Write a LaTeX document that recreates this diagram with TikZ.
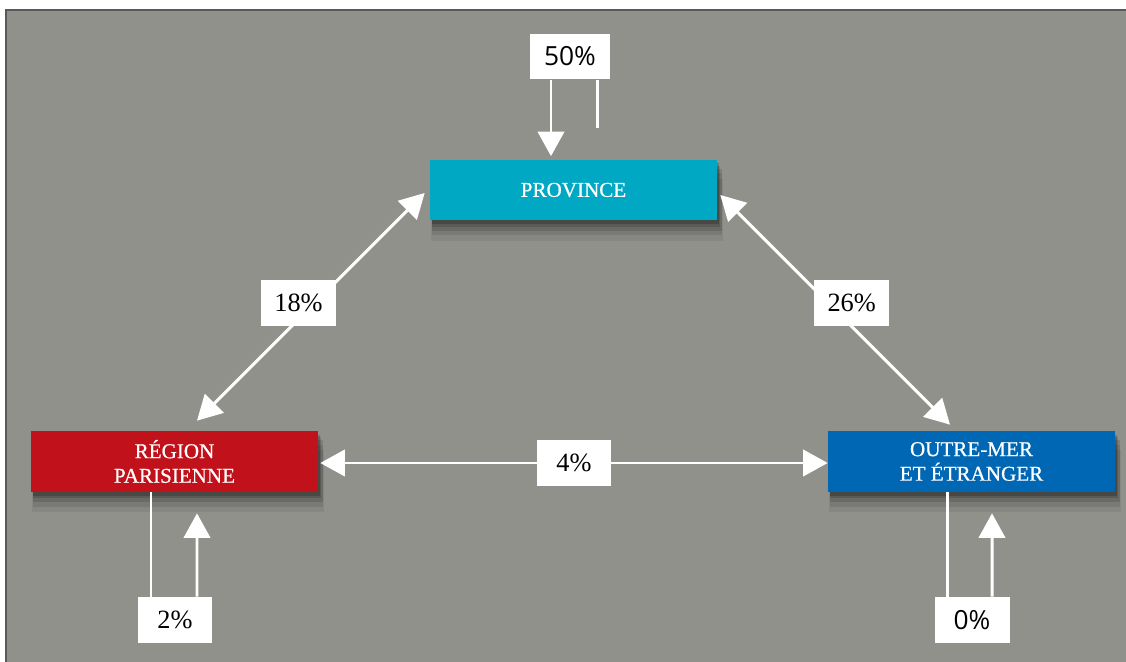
\documentclass[tikz,border=0pt]{standalone}
\usepackage{fontspec}
\setmainfont{Liberation Serif}
\setsansfont{Open Sans}
\usetikzlibrary{arrows.meta,shadows,calc}

\definecolor{bggray}{RGB}{145,145,140}
\definecolor{provblue}{RGB}{0,168,195}
\definecolor{parisred}{RGB}{193,18,28}
\definecolor{outreblue}{RGB}{0,103,180}

\tikzset{
  ->/.style={draw=white,line width=1.7pt,-{Triangle[width=15pt,length=14pt]}},
  <->/.style={draw=white,line width=1.7pt,arrows={Triangle[width=15pt,length=14pt]-Triangle[width=15pt,length=14pt]}},
  stem/.style={draw=white,line width=1.7pt},
  softshadow/.style={
    general shadow={shadow xshift=2pt,shadow yshift=-11pt,shadow scale=1.015,fill=black,opacity=.07},
    general shadow={shadow xshift=2pt,shadow yshift=-8pt,shadow scale=1.012,fill=black,opacity=.09},
    general shadow={shadow xshift=2pt,shadow yshift=-5.5pt,shadow scale=1.01,fill=black,opacity=.12},
    general shadow={shadow xshift=1.5pt,shadow yshift=-3.5pt,shadow scale=1.005,fill=black,opacity=.15},
    general shadow={shadow xshift=1pt,shadow yshift=-2pt,fill=black,opacity=.2}},
  region/.style={fill=#1,text=white,minimum width=5.74cm,minimum height=1.22cm,
    align=center,font=\fontsize{12}{14}\selectfont\addfontfeatures{FakeBold=0.6},
    softshadow},
  pct/.style={fill=white,text=black,minimum width=1.5cm,minimum height=0.92cm,inner sep=0pt}
}
\tikzstyle{every node}=[font=\fontsize{15}{17}\selectfont]

\begin{document}
\begin{tikzpicture}[x=0.02cm,y=-0.02cm]
    \useasboundingbox (0,0) rectangle (1126,662);
    \fill[bggray] (6,10) rectangle (1126,662);
    \draw[black!65,line width=1.2pt] (6,662) -- (6,10) -- (1126,10);

    \node[region=provblue] (prov) at (573.5,190) {PROVINCE};
    \node[region=parisred] (paris) at (174.5,461.5) {RÉGION\\PARISIENNE};
    \node[region=outreblue] (outre) at (971.5,461.5) {OUTRE-MER\\ET ÉTRANGER};

    \node[pct,minimum width=1.6cm] (p50) at (570,56.5) {\sffamily 50\%};
    \node[pct] (p2) at (175,620) {2\%};
    \node[pct] (p0) at (972,620) {\sffamily 0\%};
    \coordinate (e50) at (597,128);

    \draw[->] ($(p50.south)+(-19,0)$) -- ($(prov.north)+(-22.5,-3)$);
    \draw[stem] ($(p50.south)+(27,0)$) -- (e50);
    \draw[<->] ($(paris.north)+(22.5,-10)$) --
      node[pct,xshift=-7pt,yshift=2pt] (p18) {18\%} ($(prov.west)+(-5,3)$);
    \draw[<->] ($(prov.east)+(3,5)$) --
      node[pct,xshift=9.4pt,yshift=4pt] (p26) {26\%} ($(outre.north)+(-21.5,-6)$);
    \draw[<->] ($(paris.east)+(2,1.5)$) --
      node[pct] (p4) {4\%} ($(outre.west)+(0,1.5)$);
    \draw[stem] ($(paris.south)+(-23.5,0)$) -- ($(p2.north)+(-24,0)$);
    \draw[->] ($(p2.north)+(22,0)$) -- ($(paris.south)+(22.5,21)$);
    \draw[stem] ($(outre.south)+(-24.5,0)$) -- ($(p0.north)+(-25,0)$);
    \draw[->] ($(p0.north)+(20,0)$) -- ($(outre.south)+(20.5,21)$);
\end{tikzpicture}
\end{document}
